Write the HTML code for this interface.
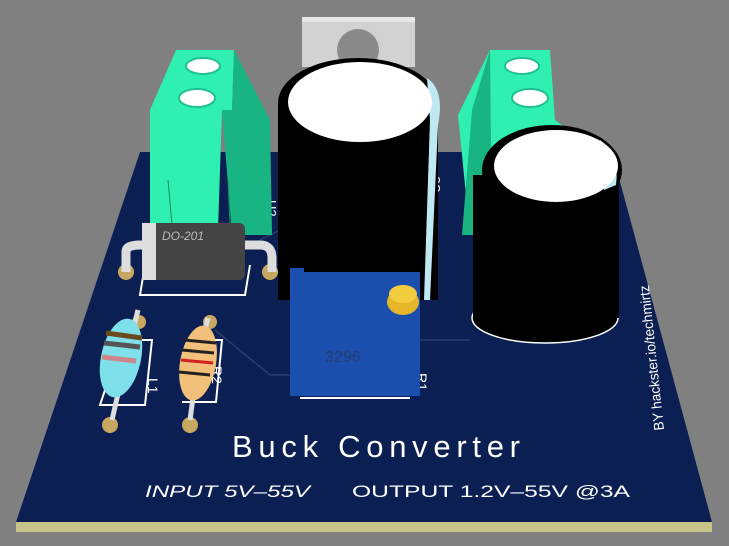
<!DOCTYPE html>
<html><head><meta charset="utf-8"><style>
html,body{margin:0;padding:0;background:#808080;width:729px;height:546px;overflow:hidden}
svg{display:block}
text{font-family:"Liberation Sans",sans-serif}
</style></head><body>
<svg width="729" height="546" viewBox="0 0 729 546" xmlns="http://www.w3.org/2000/svg">
<rect width="729" height="546" fill="#808080"/>
<!-- board -->
<polygon points="16,522 712,522 712,532 16,532" fill="#c9c48a"/>
<polygon points="140,152 612,152 712,522 16,522" fill="#0b1f52"/>
<!-- traces -->
<g stroke="#2a3d6e" stroke-width="1.5" fill="none">
<path d="M260,240 L290,225"/><path d="M215,330 L270,375 L300,375"/><path d="M420,340 L470,340"/>
</g>
<!-- silkscreen outlines -->
<g stroke="#fff" stroke-width="2" fill="none">
<path d="M145,265 L140,295 L245,295 L250,265"/>
<path d="M140,340 L152,340 L145,405 L100,405 L105,390"/>
<path d="M205,340 L222,340 L216,402 L182,402"/>
<path d="M300,398 L410,398"/>
</g>
<text x="0" y="0" fill="#fff" font-size="13" transform="translate(267,200) rotate(90)">U2</text>
<text x="0" y="0" fill="#fff" font-size="13" transform="translate(440,193) rotate(-90)">U3</text>
<text x="0" y="0" fill="#fff" font-size="14" transform="translate(148,378) rotate(90)">L1</text>
<text x="0" y="0" fill="#fff" font-size="14" transform="translate(212,366) rotate(90)">R2</text>
<text x="0" y="0" fill="#fff" font-size="14" transform="translate(417,373) rotate(90)">R1</text>
<text x="0" y="0" fill="#fff" font-size="14" textLength="146" lengthAdjust="spacingAndGlyphs" transform="translate(664,430) rotate(-96)">BY hackster.io/techmirtz</text>
<text x="232" y="457" fill="#fff" font-size="31" textLength="288" lengthAdjust="spacing">Buck Converter</text>
<text x="145" y="497" fill="#fff" font-size="17" font-style="italic" textLength="165" lengthAdjust="spacingAndGlyphs">INPUT 5V–55V</text>
<text x="352" y="497" fill="#fff" font-size="17" textLength="278" lengthAdjust="spacingAndGlyphs">OUTPUT 1.2V–55V @3A</text>
<!-- heatsink -->
<rect x="302" y="17" width="113" height="50" fill="#d2d2d2"/>
<rect x="302" y="17" width="113" height="5" fill="#e6e6e6"/>
<circle cx="358" cy="50" r="21" fill="#8a8a8a"/>
<!-- left terminal -->
<polygon points="176,50 234,50 232,110 222,110 218,230 150,230 150,110" fill="#2ff0b0"/>
<polygon points="234,50 270,120 272,235 232,235 222,110 232,110" fill="#18b582"/>
<ellipse cx="203" cy="66" rx="17" ry="8" fill="#fff" stroke="#20c090" stroke-width="2"/>
<ellipse cx="197" cy="98" rx="18" ry="9" fill="#fff" stroke="#20c090" stroke-width="2"/>
<line x1="168" y1="180" x2="172" y2="225" stroke="#148a60"/><line x1="228" y1="180" x2="230" y2="225" stroke="#148a60"/>
<!-- right terminal -->
<polygon points="490,50 550,50 555,120 568,130 570,235 470,235 458,115" fill="#2ff0b0"/>
<polygon points="472,110 490,50 492,235 462,235" fill="#18b582"/>
<ellipse cx="522" cy="66" rx="17" ry="8" fill="#fff" stroke="#20c090" stroke-width="2"/>
<ellipse cx="530" cy="98" rx="18" ry="9" fill="#fff" stroke="#20c090" stroke-width="2"/>
<!-- cap 1 -->
<rect x="278" y="105" width="160" height="195" fill="#000"/>
<ellipse cx="358" cy="103" rx="80" ry="45" fill="#000"/>
<path d="M427,78 Q445,90 438,125 L430,300 L424,300 L430,120 Z" fill="#bfe9f2"/>
<ellipse cx="360" cy="102" rx="72" ry="40" fill="#fff"/>
<!-- cap 2 -->
<ellipse cx="545" cy="318" rx="73" ry="25" fill="#000" stroke="#fff" stroke-width="1.5"/>
<rect x="473" y="175" width="146" height="143" fill="#000"/>
<ellipse cx="552" cy="170" rx="70" ry="45" fill="#000"/>
<path d="M600,140 Q620,155 616,185 L604,190 Z" fill="#bfe9f2"/>
<ellipse cx="556" cy="166" rx="62" ry="36" fill="#fff"/>
<!-- pot -->
<rect x="290" y="272" width="130" height="124" fill="#1a4fae"/>
<rect x="290" y="268" width="14" height="8" fill="#1a4fae"/>
<text x="325" y="362" fill="#2a3c70" font-size="16">3296</text>
<ellipse cx="403" cy="302" rx="16" ry="13" fill="#e6b62a"/>
<ellipse cx="403" cy="294" rx="14" ry="9" fill="#f4cc40"/>
<!-- pads -->
<g fill="#c8a860"><circle cx="126" cy="272" r="8"/><circle cx="270" cy="272" r="8"/><circle cx="139" cy="322" r="7"/><circle cx="210" cy="322" r="7"/><circle cx="110" cy="425" r="8"/><circle cx="190" cy="425" r="8"/></g>
<!-- diode -->
<path d="M126,272 L126,252 Q126,245 140,245 L260,245 Q272,245 272,258 L272,272" stroke="#ddd" stroke-width="9" fill="none"/>
<rect x="142" y="223" width="103" height="57" rx="6" fill="#444"/>
<rect x="142" y="223" width="14" height="57" fill="#ddd"/>
<text x="162" y="240" fill="#bbb" font-size="12" font-style="italic">DO-201</text>
<!-- L1 -->
<path d="M138,310 L128,350 L112,420" stroke="#ddd" stroke-width="5" fill="none"/>
<ellipse cx="121" cy="358" rx="20" ry="40" fill="#7fe0ec" transform="rotate(12 121 358)"/>
<g stroke-width="5"><line x1="106" y1="333" x2="142" y2="338" stroke="#6b4a20"/><line x1="104" y1="343" x2="140" y2="347" stroke="#555"/><line x1="102" y1="357" x2="136" y2="361" stroke="#c88"/></g>
<!-- R2 -->
<path d="M208,318 L198,360 L190,420" stroke="#ddd" stroke-width="5" fill="none"/>
<ellipse cx="198" cy="363" rx="18" ry="38" fill="#f2c07a" transform="rotate(10 198 363)"/>
<g stroke-width="3"><line x1="184" y1="340" x2="216" y2="343" stroke="#222"/><line x1="182" y1="350" x2="214" y2="353" stroke="#222"/><line x1="181" y1="360" x2="213" y2="363" stroke="#d42020"/><line x1="179" y1="372" x2="210" y2="375" stroke="#222"/></g>
</svg>
</body></html>
